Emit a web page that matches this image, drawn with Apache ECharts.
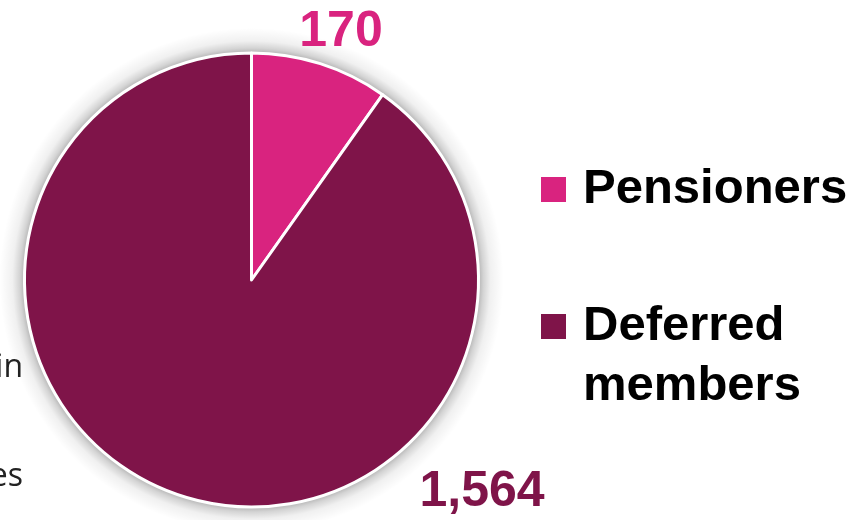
<!DOCTYPE html>
<html>
<head>
<meta charset="utf-8">
<script src="https://cdn.jsdelivr.net/npm/echarts@6/dist/echarts.min.js"></script>
<style>html,body{margin:0;padding:0;background:#fff}#c{width:867px;height:520px}</style>
</head>
<body>
<div id="c"></div>
<script>
const categories = ['Pensioners', 'Deferred members'];
const values = [170, 1564];
const colors = ['#D9237F', '#7F1449'];
const legendLabels = ['Pensioners', '\nDeferred\nmembers'];
const sideTextFragments = ['in', 'es'];

const chart = echarts.init(document.getElementById('c'));
const CX = 251.5, CY = 280, R = 227;
const labelPos = [{ x: 341, y: 32 }, { x: 482, y: 492 }];
const FONT = '"Liberation Sans", Arial, sans-serif';
const HALO = 252;

const legendBase = {
  orient: 'vertical', left: 541, padding: 0,
  itemWidth: 25, itemHeight: 25, icon: 'rect',
  itemStyle: { borderWidth: 0 },
  textStyle: { fontFamily: FONT, fontWeight: 'bold', fontSize: 49, color: '#000', lineHeight: 60, padding: [0, 0, 0, 12] },
  selectedMode: false
};

chart.setOption({
  animation: false,
  backgroundColor: '#fff',
  legend: [
    Object.assign({}, legendBase, { data: [categories[0]], top: 159.5, formatter: () => legendLabels[0] }),
    Object.assign({}, legendBase, { data: [categories[1]], top: 236.5, formatter: () => legendLabels[1] })
  ],
  graphic: [
    {
      type: 'circle', silent: true, z: 0,
      shape: { cx: CX, cy: CY, r: HALO },
      style: {
        fill: {
          type: 'radial', x: CX, y: CY, r: HALO, global: true,
          colorStops: [
            { offset: 0, color: 'rgba(0,0,0,0.32)' },
            { offset: (R - 1) / HALO, color: 'rgba(0,0,0,0.32)' },
            { offset: (R + 5) / HALO, color: 'rgba(0,0,0,0.17)' },
            { offset: (R + 12) / HALO, color: 'rgba(0,0,0,0.06)' },
            { offset: 1, color: 'rgba(0,0,0,0)' }
          ]
        }
      }
    }
  ].concat(sideTextFragments.map((t, i) => ({
    type: 'text', right: 867 - 23, top: i === 0 ? 352 : 461, silent: true,
    style: { text: t, fill: '#222', font: '32px "Open Sans", sans-serif' }
  }))),
  series: [
    {
      type: 'pie', z: 5, center: [CX, CY], radius: R,
      startAngle: 90, clockwise: true,
      itemStyle: { borderColor: '#fff', borderWidth: 3 },
      labelLine: { show: false },
      label: {
        show: true, position: 'outside',
        formatter: p => p.value.toLocaleString('en-US'),
        fontFamily: FONT, fontWeight: 'bold', fontSize: 50
      },
      labelLayout: p => ({ x: labelPos[p.dataIndex].x, y: labelPos[p.dataIndex].y, align: 'center', verticalAlign: 'middle' }),
      data: categories.map((c, i) => ({
        name: c, value: values[i],
        itemStyle: { color: colors[i] },
        label: { color: colors[i] }
      }))
    }
  ]
});
</script>
</body>
</html>
